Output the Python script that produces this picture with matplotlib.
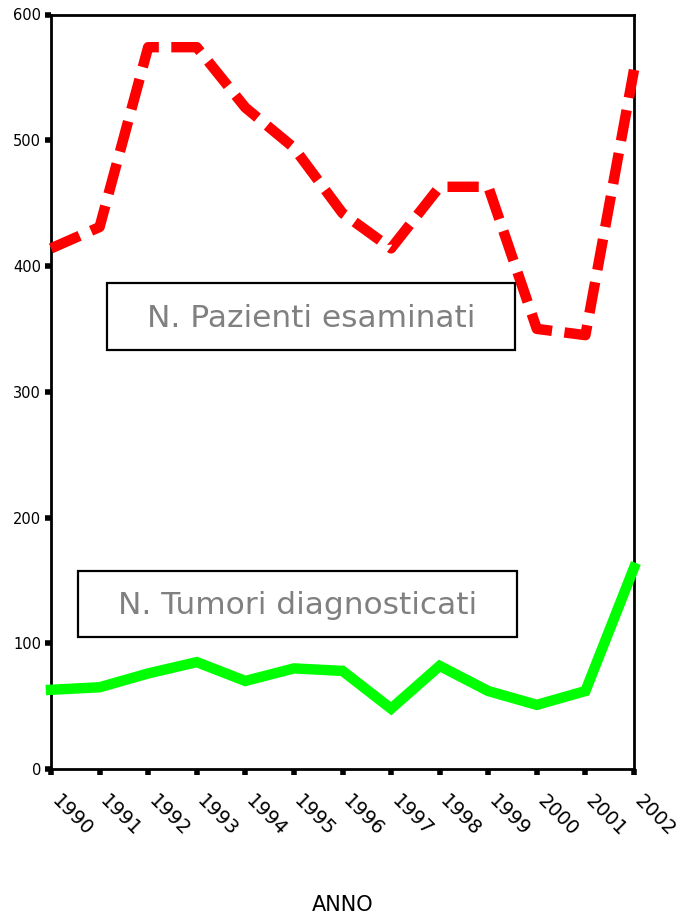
import matplotlib.pyplot as plt
import matplotlib.transforms as mtransforms
from matplotlib.patches import Rectangle

# data
anni = ["1990", "1991", "1992", "1993", "1994", "1995", "1996",
        "1997", "1998", "1999", "2000", "2001", "2002"]
pazienti = [414, 431, 574, 574, 526, 494, 442, 414, 463, 463, 350, 345, 556]
tumori = [63, 65, 76, 85, 70, 80, 78, 48, 82, 62, 51, 62, 160]
y_ticks = [0, 100, 200, 300, 400, 500, 600]

W, H = 693, 919
fig = plt.figure(figsize=(W / 100, H / 100), dpi=100)

# axes box in pixel coords of the reference
left, right, top, bottom = 51, 634, 14.5, 769
ax = fig.add_axes([left / W, 1 - bottom / H, (right - left) / W, (bottom - top) / H])

x = list(range(len(anni)))
ax.plot(x, pazienti, color="#ff0000", linewidth=7.5, linestyle=(0, (3.0, 1.2)),
        dash_capstyle="butt", solid_joinstyle="miter", clip_on=False, zorder=3)
ax.plot(x, tumori, color="#00ff00", linewidth=7.5, solid_joinstyle="miter",
        clip_on=False, zorder=3)

ax.set_xlim(0, len(anni) - 1)
ax.set_ylim(0, 600)

for s in ax.spines.values():
    s.set_linewidth(2)
    s.set_color("black")

narrow = ["Liberation Sans Narrow", "DejaVu Sans"]

ax.set_yticks(y_ticks)
ax.set_yticklabels([str(v) for v in y_ticks], family=narrow, fontsize=10.5)
ax.tick_params(axis="y", direction="out", length=4, width=4, pad=3)

ax.set_xticks(x)
ax.set_xticklabels(anni, family=narrow, fontsize=14, rotation=-45,
                   ha="left", va="top", rotation_mode="anchor")
ax.tick_params(axis="x", direction="out", length=4, width=4, pad=12)
# nudge the slanted year labels a little to the right, as in the reference
shift = mtransforms.ScaledTranslation(10 / 100, 0, fig.dpi_scale_trans)
for lab in ax.get_xticklabels():
    lab.set_transform(lab.get_transform() + shift)

fig.text(((left + right) / 2) / W, 1 - 905 / H, "ANNO", family=narrow,
         fontsize=15, ha="center", va="center")

# label boxes
def label_box(x0, y0, x1, y1, testo):
    fig.patches.append(Rectangle((x0 / W, 1 - y1 / H), (x1 - x0) / W, (y1 - y0) / H,
                                 transform=fig.transFigure, facecolor="white",
                                 edgecolor="black", linewidth=1.6, zorder=5))
    fig.text(((x0 + x1) / 2) / W, 1 - ((y0 + y1) / 2 + 2) / H, testo,
             color="#808080", fontsize=22.5, ha="center", va="center", zorder=6)

label_box(107, 283, 515, 350, "N. Pazienti esaminati")
label_box(78, 571, 517, 637, "N. Tumori diagnosticati")

fig.savefig("out.png", dpi=100)
